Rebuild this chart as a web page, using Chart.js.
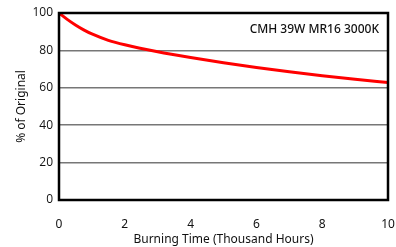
<!DOCTYPE html>
<html>
<head>
<meta charset="utf-8">
<script src="https://cdn.jsdelivr.net/npm/chart.js@4.4.0/dist/chart.umd.min.js"></script>
<style>
  html, body { margin: 0; padding: 0; background: #fff; }
  #wrap { width: 396px; height: 247px; }
</style>
</head>
<body>
<div id="wrap"><canvas id="chart" width="396" height="247"></canvas></div>
<script>
// burning time in thousand hours, and lumen % of original
const hours = [0, 0.25, 0.5, 0.75, 1, 1.5, 2, 3, 4, 5, 6, 7, 8, 9, 10];
const lumens = [100, 96.6, 93.6, 91, 88.8, 85.4, 83, 79.3, 76.2, 73.4, 70.9, 68.6, 66.5, 64.6, 62.8];
const yTicks = [0, 20, 40, 60, 80, 100];
const xTicks = [0, 2, 4, 6, 8, 10];
const label = 'CMH 39W MR16 3000K';

const frame = {
    id: 'frame',
    afterDraw(chart) {
        const { ctx, chartArea: a } = chart;
        ctx.save();
        ctx.strokeStyle = '#000';
        ctx.lineWidth = 2.5;
        ctx.strokeRect(a.left, a.top, a.right - a.left, a.bottom - a.top);
        ctx.fillStyle = '#111';
        ctx.font = '500 12px "Noto Sans"';
        ctx.textAlign = 'right';
        ctx.textBaseline = 'middle';
        ctx.fillText(label, a.right - 9, a.top + 17);
        ctx.restore();
    }
};

new Chart(document.getElementById('chart'), {
    type: 'line',
    data: {
        datasets: [{
            data: hours.map((h, i) => ({ x: h, y: lumens[i] })),
            borderColor: '#ff0000',
            borderWidth: 3,
            pointRadius: 0,
            cubicInterpolationMode: 'monotone',
            fill: false
        }]
    },
    options: {
        responsive: false,
        animation: false,
        layout: { padding: { top: 13, right: 8, left: 0, bottom: 0 } },
        plugins: { legend: { display: false }, tooltip: { enabled: false } },
        scales: {
            x: {
                type: 'linear',
                min: 0,
                max: 10,
                afterBuildTicks: s => { s.ticks = xTicks.map(v => ({ value: v })); },
                afterFit: s => { s.height = 47; s.paddingRight = 0; s.paddingLeft = 0; },
                grid: { display: false },
                border: { display: false },
                ticks: { color: '#111', padding: 9, font: { family: 'Noto Sans', size: 12 } },
                title: {
                    display: true,
                    text: 'Burning Time (Thousand Hours)',
                    color: '#111',
                    padding: { top: 2, bottom: 0 },
                    font: { family: 'Noto Sans', size: 12 }
                }
            },
            y: {
                min: 0,
                max: 100,
                afterBuildTicks: s => { s.ticks = yTicks.map(v => ({ value: v })); },
                afterFit: s => { s.width = 59; s.paddingTop = 0; s.paddingBottom = 0; },
                grid: { color: '#777', lineWidth: 1.5, drawTicks: false },
                border: { display: false },
                ticks: { color: '#111', padding: 6, font: { family: 'Open Sans', size: 12 } },
                title: {
                    display: true,
                    text: '% of Original',
                    color: '#111',
                    padding: { top: 14, bottom: 4 },
                    font: { family: 'Noto Sans', size: 12 }
                }
            }
        }
    },
    plugins: [frame]
});
</script>
</body>
</html>
